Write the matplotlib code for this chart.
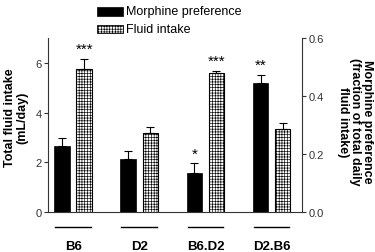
import matplotlib
matplotlib.use("Agg")
import matplotlib.pyplot as plt
import numpy as np

plt.rcParams['font.family'] = ['Liberation Sans', 'DejaVu Sans']
plt.rcParams['hatch.linewidth'] = 0.45
plt.rcParams['hatch.color'] = '#7a7a7a'

groups = ["B6", "D2", "B6.D2", "D2.B6"]
morphine_pref = [0.228, 0.183, 0.133, 0.445]
morphine_err = [0.026, 0.026, 0.035, 0.027]
fluid_intake = [5.76, 3.16, 5.58, 3.33]
fluid_err = [0.40, 0.25, 0.11, 0.24]
morphine_sig = ["", "", "*", "**"]
fluid_sig = ["***", "", "***", ""]
left_ticks = [0, 2, 4, 6]
right_ticks = [0.0, 0.2, 0.4, 0.6]

fig = plt.figure(figsize=(3.75, 2.53), dpi=100)
ax = fig.add_axes([48/375, 40/253, 254/375, 174/253])
ax2 = ax.twinx()

x = np.arange(len(groups))
w = 0.235
off = 0.167

ax2.bar(x - off, morphine_pref, w, color='black', edgecolor='black', linewidth=0.5,
        yerr=[np.zeros(len(x)), morphine_err], error_kw=dict(ecolor='black', elinewidth=0.8, capsize=3, capthick=0.8))
ax.bar(x + off, fluid_intake, w, color='white', edgecolor='black', linewidth=0.8, hatch='++++++',
       yerr=[np.zeros(len(x)), fluid_err], error_kw=dict(ecolor='black', elinewidth=0.8, capsize=3, capthick=0.8))

ax.set_ylim(0, 7)
ax2.set_ylim(0, 0.6)
ax.set_xlim(-0.38, 3.46)
ax.set_yticks(left_ticks)
ax.set_yticklabels([str(t) for t in left_ticks])
ax2.set_yticks(right_ticks)
ax2.set_yticklabels([f"{t:.1f}" for t in right_ticks])
ax.set_xticks([])
for a in (ax, ax2):
    a.spines['top'].set_visible(False)
    a.tick_params(axis='y', labelsize=8, length=3, width=0.8, pad=1.5, colors='#333333')
    for s in a.spines.values():
        s.set_linewidth(0.8)
        s.set_color('#333333')
ax.spines['right'].set_visible(False)
ax2.spines['left'].set_visible(False)
ax2.spines['bottom'].set_visible(False)

# significance stars
for i in range(len(x)):
    if fluid_sig[i]:
        ax.text(x[i] + off, fluid_intake[i] + fluid_err[i] + 0.12, fluid_sig[i], ha='center', va='bottom', fontsize=11)
    if morphine_sig[i]:
        ax2.text(x[i] - off, morphine_pref[i] + morphine_err[i] + 0.01, morphine_sig[i], ha='center', va='bottom', fontsize=11)

# group underlines and labels
trans = matplotlib.transforms.blended_transform_factory(ax.transData, ax.transAxes)
for i, g in enumerate(groups):
    ax.plot([x[i] - 0.27, x[i] + 0.27], [-0.088, -0.088], color='black', lw=1.0, transform=trans, clip_on=False)
    ax.text(x[i], -0.195, g, ha='center', va='center', fontsize=9.5, fontweight='bold', transform=trans)

# axis labels
fig.text(16/375, 1 - 118/253, "Total fluid intake\n(mL/day)", rotation=90, ha='center', va='center',
         fontsize=9, fontweight='bold', linespacing=1.1)
fig.text(355/375, 1 - 122/253, "Morphine preference\n(fraction of total daily\nfluid intake)", rotation=-90,
         ha='center', va='center', fontsize=9, fontweight='bold', linespacing=1.05)

# legend
fig.patches.append(matplotlib.patches.Rectangle((97/375, 1 - 17/253), 26/375, 9/253, transform=fig.transFigure,
                                               facecolor='black', edgecolor='black', lw=0.5))
fig.patches.append(matplotlib.patches.Rectangle((97/375, 1 - 34/253), 26/375, 8/253, transform=fig.transFigure,
                                               facecolor='white', edgecolor='black', lw=0.6, hatch='++++++'))
fig.text(126/375, 1 - 12/253, "Morphine preference", ha='left', va='center', fontsize=9)
fig.text(126/375, 1 - 30/253, "Fluid intake", ha='left', va='center', fontsize=9)

fig.savefig("out.png", dpi=100)
